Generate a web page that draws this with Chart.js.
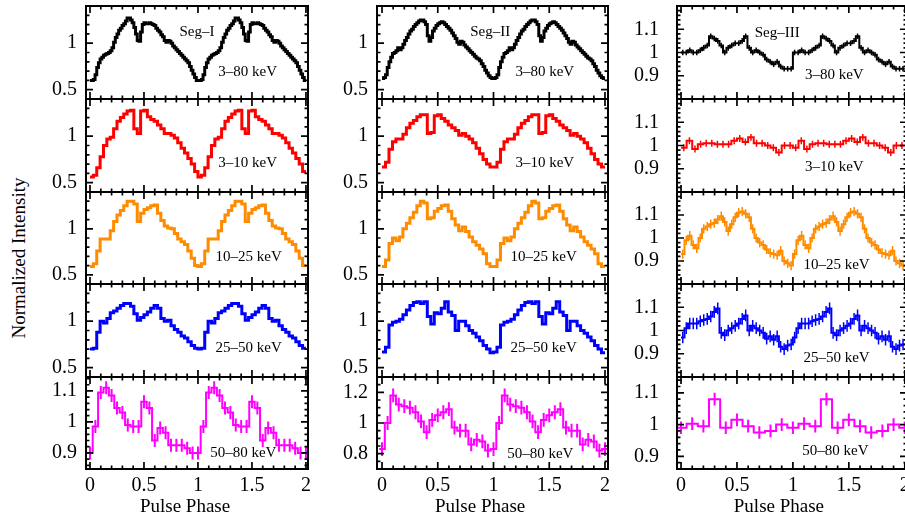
<!DOCTYPE html>
<html>
<head>
<meta charset="utf-8">
<script src="https://cdn.jsdelivr.net/npm/chart.js@4/dist/chart.umd.min.js"></script>
<style>
  html, body { margin: 0; padding: 0; background: #fff; width: 905px; height: 520px; overflow: hidden; }
  #wrap { position: relative; width: 905px; height: 520px; overflow: hidden; }
  #wrap canvas { position: absolute; }
  #ylab { position: absolute; left: 19px; top: 258px; transform: translate(-50%, -50%) rotate(-90deg);
          white-space: nowrap; font-family: "Liberation Serif", "Times New Roman", serif; font-size: 19px; color: #000; }
</style>
</head>
<body>
<div id="wrap"><div id="ylab">Normalized Intensity</div></div>
<script>
// ---------------- DATA (one pulse cycle per band; the figure shows phase 0–2, i.e. the cycle twice) ----------------
const phaseTicks = [0, 0.5, 1, 1.5, 2];
const yTicksSoft = [0.5, 1];
const yTicksSeg1Hard = [0.9, 1, 1.1];
const yTicksSeg2Hard = [0.8, 1, 1.2];
const yTicksSeg3 = [0.9, 1, 1.1];

const segmentNames = ['Seg–I', 'Seg–II', 'Seg–III'];
const bandLabels = ['3–80 keV', '3–10 keV', '10–25 keV', '25–50 keV', '50–80 keV'];
const bandColors = ['#000000', '#ff0000', '#ff8c00', '#0000ff', '#ff00ff'];
const xAxisTitle = 'Pulse Phase';

// Seg-I
const seg1_3_80 = [0.60,0.60,0.61,0.66,0.74,0.79,0.83,0.85,0.87,0.88,0.89,0.90,0.92,0.95,1.01,1.06,
                   1.10,1.14,1.16,1.19,1.21,1.24,1.27,1.27,1.25,1.22,1.17,1.10,1.03,1.02,1.12,1.20,
                   1.22,1.21,1.21,1.22,1.21,1.20,1.19,1.16,1.14,1.12,1.09,1.07,1.03,1.01,1.03,1.02,
                   1.00,0.97,0.95,0.93,0.91,0.89,0.87,0.85,0.83,0.81,0.79,0.75,0.71,0.67,0.63,0.60];
const seg1_3_10 = [0.56,0.58,0.66,0.78,0.90,0.97,0.99,1.08,1.16,1.20,1.24,1.27,1.28,1.08,1.03,1.27,
                   1.28,1.21,1.18,1.16,1.12,1.08,1.03,1.03,1.01,0.98,0.93,0.87,0.82,0.76,0.70,0.62];
const seg1_10_25 = [0.59,0.62,0.76,0.89,0.89,0.89,0.98,1.08,1.15,1.20,1.25,1.30,1.30,1.27,1.08,1.17,
                    1.21,1.23,1.25,1.26,1.17,1.09,1.03,1.01,1.00,0.95,0.89,0.86,0.83,0.76,0.68,0.60];
const seg1_25_50 = [0.70,0.71,0.88,1.00,0.98,1.03,1.09,1.11,1.14,1.17,1.19,1.19,1.16,1.08,1.01,1.04,
                    1.07,1.10,1.14,1.17,1.14,1.03,1.00,1.01,0.95,0.91,0.88,0.84,0.82,0.78,0.74,0.71];
const seg1_50_80 = [0.90,0.985,1.095,1.11,1.085,1.045,1.03,0.99,0.985,0.985,
                    1.065,1.045,0.94,0.98,0.965,0.925,0.925,0.925,0.915,0.90];
const seg1Errors = [0.006, 0.008, 0.008, 0.01, 0.021];

// Seg-II
const seg2_3_80 = [0.62,0.63,0.66,0.74,0.80,0.85,0.89,0.90,0.92,0.95,0.93,0.95,0.99,1.03,1.06,1.10,
                   1.13,1.15,1.18,1.20,1.22,1.24,1.25,1.25,1.23,1.20,1.08,1.02,1.06,1.13,1.16,1.19,
                   1.21,1.22,1.23,1.22,1.20,1.18,1.16,1.14,1.11,1.08,1.05,1.01,0.99,1.02,1.01,0.98,
                   0.96,0.94,0.92,0.90,0.88,0.86,0.84,0.83,0.81,0.78,0.75,0.71,0.68,0.65,0.63,0.62];
const seg2_3_10 = [0.67,0.72,0.86,0.94,0.97,0.97,1.02,1.09,1.14,1.17,1.21,1.23,1.23,1.03,1.04,1.22,
                   1.23,1.19,1.16,1.12,1.09,1.06,1.01,1.03,1.00,0.97,0.93,0.87,0.81,0.75,0.70,0.67];
const seg2_10_25 = [0.59,0.66,0.84,0.90,0.87,0.91,1.00,1.06,1.12,1.18,1.25,1.30,1.28,1.11,1.12,1.19,
                    1.22,1.25,1.26,1.19,1.11,1.04,0.98,1.02,0.97,0.91,0.86,0.82,0.78,0.73,0.62,0.59];
const seg2_25_50 = [0.67,0.72,0.96,0.99,1.00,1.02,1.07,1.12,1.17,1.20,1.21,1.19,1.21,1.05,0.97,1.09,
                    1.08,1.14,1.21,1.10,1.06,0.90,1.00,1.00,0.95,0.90,0.87,0.83,0.79,0.74,0.70,0.66];
const seg2_50_80 = [0.83,1.00,1.18,1.12,1.11,1.10,1.07,1.01,0.94,1.02,
                    1.05,1.07,1.09,0.97,0.95,0.95,0.86,0.89,0.88,0.82];
const seg2Errors = [0.006, 0.008, 0.008, 0.01, 0.045];

// Seg-III
const seg3_3_80 = [1.00,1.00,1.01,1.00,1.00,1.01,1.02,1.03,1.07,1.06,1.05,1.03,1.00,1.02,1.03,1.04,
                   1.04,1.05,1.07,1.02,1.00,1.01,1.00,0.99,0.97,0.96,0.95,0.96,0.94,0.93,0.93,0.93];
const seg3_3_10 = [0.99,1.02,0.985,1.005,1.01,1.01,1.005,1.005,1.005,1.02,
                   1.03,1.015,1.035,1.01,1.01,1.00,0.99,0.97,1.00,1.00];
const seg3_10_25 = [0.93,0.99,1.01,0.97,0.955,1.00,1.04,1.05,1.06,1.065,1.08,1.095,1.07,1.03,1.06,1.09,
                    1.11,1.115,1.105,1.09,1.04,1.00,0.98,0.97,0.95,0.935,0.93,0.925,0.945,0.90,0.89,0.88];
const seg3_25_50 = [0.97,1.01,1.03,1.03,1.03,1.04,1.045,1.05,1.06,1.08,1.095,0.99,0.98,1.00,1.01,1.02,
                    1.03,1.05,1.065,1.00,1.02,1.01,1.00,0.99,0.965,0.975,0.96,0.975,0.93,0.92,0.935,0.94];
const seg3_50_80 = [0.99,1.003,0.995,1.08,0.99,1.015,0.995,0.975,0.98,1.00];
const seg3Errors = [0.012, 0.015, 0.02, 0.025, 0.02];

// ---------------- LAYOUT / STYLE ----------------
const FONT = '"Liberation Serif", "Times New Roman", serif';
const rowTops = [6, 99, 192, 284, 377];
const rowHeights = [93, 93, 92, 93, 92];
const LM = 62, TM = 10, RM = 14, BM = 10, BM_BOTTOM = 51;

const columns = [
  { left: 86, right: 308, xmin: -0.037, xmax: 2.019, gap: 9, titleX: 0.88,
    profiles: [seg1_3_80, seg1_3_10, seg1_10_25, seg1_25_50, seg1_50_80], errors: seg1Errors,
    yRange: [[0.4,1.4],[0.4,1.4],[0.4,1.4],[0.4,1.4],[0.848,1.145]],
    yTicks: [yTicksSoft, yTicksSoft, yTicksSoft, yTicksSoft, yTicksSeg1Hard],
    yMinor: [0.1,0.1,0.1,0.1,0.02], yMajor: [0.5,0.5,0.5,0.5,0.1],
    centred: [false,false,false,false,true],
    lineW: [3,3,3,3,2], errW: [0,0,0,0,2],
    segPos: {x: 0.99, y: 1.12},
    bandPos: [{x:1.46,y:0.69},{x:1.46,y:0.71},{x:1.47,y:0.69},{x:1.47,y:0.71},{x:1.42,y:0.899}] },
  { left: 377, right: 608, xmin: -0.045, xmax: 2.027, gap: 9, titleX: 0.88,
    profiles: [seg2_3_80, seg2_3_10, seg2_10_25, seg2_25_50, seg2_50_80], errors: seg2Errors,
    yRange: [[0.4,1.4],[0.4,1.4],[0.4,1.4],[0.4,1.4],[0.7,1.3]],
    yTicks: [yTicksSoft, yTicksSoft, yTicksSoft, yTicksSoft, yTicksSeg2Hard],
    yMinor: [0.1,0.1,0.1,0.1,0.05], yMajor: [0.5,0.5,0.5,0.5,0.2],
    centred: [false,false,false,false,true],
    lineW: [3,3,3,3,2], errW: [0,0,0,0,2],
    segPos: {x: 0.97, y: 1.12},
    bandPos: [{x:1.46,y:0.69},{x:1.46,y:0.71},{x:1.45,y:0.69},{x:1.45,y:0.71},{x:1.42,y:0.80}] },
  { left: 677, right: 907, xmin: -0.036, xmax: 2.02, gap: 18, titleX: 0.875,
    profiles: [seg3_3_80, seg3_3_10, seg3_10_25, seg3_25_50, seg3_50_80], errors: seg3Errors,
    yRange: [[0.8,1.2],[0.8,1.2],[0.8,1.2],[0.8,1.2],[0.86,1.15]],
    yTicks: [yTicksSeg3, yTicksSeg3, yTicksSeg3, yTicksSeg3, yTicksSeg3],
    yMinor: [0.02,0.02,0.02,0.02,0.02], yMajor: [0.1,0.1,0.1,0.1,0.1],
    centred: [false,false,false,false,true],
    lineW: [2,2,2,2,2], errW: [1.5,1.5,1.5,1.5,2],
    segPos: {x: 0.86, y: 1.084},
    bandPos: [{x:1.37,y:0.903},{x:1.37,y:0.908},{x:1.39,y:0.883},{x:1.39,y:0.882},{x:1.38,y:0.917}] }
];

// Build step series (two cycles) from one cycle of read values
function buildSeries(cycle, centred) {
  const n = cycle.length, w = 1 / n, off = centred ? 0 : 0.5;
  const count = centred ? 2 * n + 1 : 2 * n;
  const centers = [];
  for (let k = 0; k < count; k++) centers.push({ x: (k + off) * w, y: cycle[k % n] });
  const pts = [{ x: centers[0].x - w / 2, y: centers[0].y }]
    .concat(centers, [{ x: centers[count - 1].x + w / 2, y: centers[count - 1].y }]);
  return { pts, centers };
}

// ---------------- PLUGINS ----------------
const errorBars = {
  id: 'errorBars',
  afterDatasetsDraw(chart) {
    const ds = chart.data.datasets[0];
    if (!ds.errWidth || !ds.errSize) return;
    const { ctx, chartArea: a } = chart, xs = chart.scales.x, ys = chart.scales.y;
    ctx.save();
    ctx.beginPath(); ctx.rect(a.left, a.top, a.right - a.left, a.bottom - a.top); ctx.clip();
    ctx.strokeStyle = ds.borderColor; ctx.lineWidth = ds.errWidth;
    ctx.beginPath();
    for (const c of ds.centers) {
      const px = xs.getPixelForValue(c.x);
      ctx.moveTo(px, ys.getPixelForValue(c.y - ds.errSize));
      ctx.lineTo(px, ys.getPixelForValue(c.y + ds.errSize));
    }
    ctx.stroke();
    ctx.restore();
  }
};

const panelText = {
  id: 'panelText',
  afterDatasetsDraw(chart, args, opts) {
    const { ctx, chartArea: a } = chart, xs = chart.scales.x, ys = chart.scales.y;
    ctx.save();
    ctx.fillStyle = '#000';
    ctx.textAlign = 'center'; ctx.textBaseline = 'middle';
    ctx.font = '15px ' + FONT;
    for (const it of (opts.items || [])) {
      ctx.fillText(it.text, xs.getPixelForValue(it.x), ys.getPixelForValue(it.y));
    }
    if (opts.title) {
      ctx.font = '19px ' + FONT;
      ctx.fillText(opts.title.text, xs.getPixelForValue(opts.title.x), a.bottom + opts.title.dy);
    }
    ctx.restore();
  }
};

const frameTicks = {
  id: 'frameTicks',
  afterDatasetsDraw(chart, args, o) {
    const { ctx, chartArea: a } = chart, xs = chart.scales.x, ys = chart.scales.y;
    const isMajor = (v, step) => Math.abs(v / step - Math.round(v / step)) < 1e-6;
    ctx.save();
    ctx.strokeStyle = '#000'; ctx.lineWidth = 1.7; ctx.lineCap = 'butt';
    ctx.beginPath();
    for (let k = Math.ceil(xs.min / o.xMinor - 1e-9); k <= Math.floor(xs.max / o.xMinor + 1e-9); k++) {
      const v = k * o.xMinor, L = isMajor(v, o.xMajor) ? 7 : 3.5;
      const px = xs.getPixelForValue(v);
      ctx.moveTo(px, a.bottom); ctx.lineTo(px, a.bottom - L);
      ctx.moveTo(px, a.top); ctx.lineTo(px, a.top + L);
    }
    for (let k = Math.ceil(ys.min / o.yMinor - 1e-9); k <= Math.floor(ys.max / o.yMinor + 1e-9); k++) {
      const v = k * o.yMinor, L = isMajor(v, o.yMajor) ? 7 : 3.5;
      const py = ys.getPixelForValue(v);
      ctx.moveTo(a.left, py); ctx.lineTo(a.left + L, py);
      ctx.moveTo(a.right, py); ctx.lineTo(a.right - L, py);
    }
    ctx.stroke();
    ctx.lineWidth = 2;
    ctx.strokeRect(a.left, a.top, a.right - a.left, a.bottom - a.top);
    ctx.restore();
  }
};

// ---------------- BUILD PANELS ----------------
const wrap = document.getElementById('wrap');
const fmt = v => String(Math.round(v * 1000) / 1000);

columns.forEach((col, ci) => {
  for (let r = 0; r < 5; r++) {
    const isBottom = r === 4;
    const areaW = col.right - col.left, areaH = rowHeights[r];
    const W = LM + areaW + RM, H = TM + areaH + (isBottom ? BM_BOTTOM : BM);
    const cv = document.createElement('canvas');
    cv.width = W; cv.height = H;
    cv.style.left = (col.left - LM) + 'px';
    cv.style.top = (rowTops[r] - TM) + 'px';
    cv.style.width = W + 'px'; cv.style.height = H + 'px';
    wrap.appendChild(cv);

    const s = buildSeries(col.profiles[r], col.centred[r]);
    const items = [{ x: col.bandPos[r].x, y: col.bandPos[r].y, text: bandLabels[r] }];
    if (r === 0) items.push({ x: col.segPos.x, y: col.segPos.y, text: segmentNames[ci] });
    const yTickList = col.yTicks[r];

    new Chart(cv, {
      type: 'line',
      data: {
        datasets: [{
          label: segmentNames[ci] + ' ' + bandLabels[r],
          data: s.pts, centers: s.centers,
          errSize: col.errors[r], errWidth: col.errW[r],
          borderColor: bandColors[r], borderWidth: col.lineW[r],
          stepped: 'middle', pointRadius: 0, fill: false, tension: 0
        }]
      },
      options: {
        responsive: false, animation: false, devicePixelRatio: 1,
        layout: { padding: { left: 0, right: RM, top: TM, bottom: isBottom ? 0 : BM } },
        plugins: {
          legend: { display: false }, tooltip: { enabled: false },
          panelText: { items, title: isBottom ? { text: xAxisTitle, x: col.titleX, dy: 38.5 } : null },
          frameTicks: { xMinor: 0.1, xMajor: 0.5, yMinor: col.yMinor[r], yMajor: col.yMajor[r] }
        },
        scales: {
          x: {
            type: 'linear', position: 'bottom', min: col.xmin, max: col.xmax,
            grid: { display: false, drawTicks: false }, border: { display: false },
            ticks: { display: isBottom, color: '#000', font: { family: FONT, size: 20 }, padding: 5,
                     maxRotation: 0, autoSkip: false, callback: fmt },
            afterBuildTicks: sc => { sc.ticks = phaseTicks.map(v => ({ value: v })); },
            afterFit: sc => { sc.height = isBottom ? BM_BOTTOM : 0; sc.paddingLeft = 0; sc.paddingRight = 0; },
            title: { display: false, text: xAxisTitle }
          },
          y: {
            type: 'linear', position: 'left', min: col.yRange[r][0], max: col.yRange[r][1],
            grid: { display: false, drawTicks: false }, border: { display: false },
            ticks: { color: '#000', font: { family: FONT, size: 20 }, padding: col.gap, autoSkip: false, callback: fmt },
            afterBuildTicks: sc => { sc.ticks = yTickList.map(v => ({ value: v })); },
            afterFit: sc => { sc.width = LM; sc.paddingTop = 0; sc.paddingBottom = 0; }
          }
        }
      },
      plugins: [errorBars, panelText, frameTicks]
    });
  }
});
</script>
</body>
</html>
